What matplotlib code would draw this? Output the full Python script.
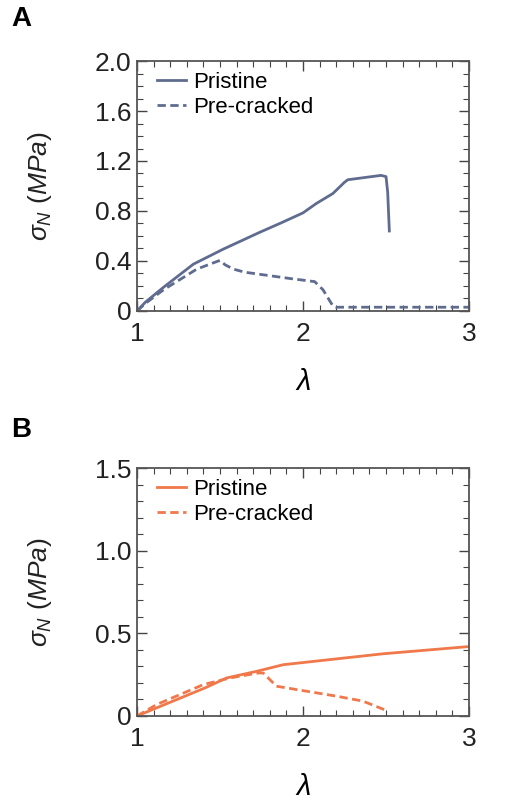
import matplotlib
matplotlib.use("Agg")
import matplotlib.pyplot as plt
from matplotlib.ticker import MultipleLocator

plt.rcParams['font.family'] = ['Liberation Sans', 'DejaVu Sans']
plt.rcParams['mathtext.fontset'] = 'custom'
plt.rcParams['mathtext.it'] = 'Liberation Sans:italic'
plt.rcParams['mathtext.rm'] = 'Liberation Sans'

# Panel A data
a_pristine_x = [1.0, 1.05, 1.16, 1.34, 1.52, 1.74, 1.86, 2.0, 2.08, 2.18, 2.25, 2.27, 2.47, 2.50, 2.51, 2.52]
a_pristine_y = [0.0, 0.07, 0.19, 0.375, 0.495, 0.63, 0.70, 0.785, 0.86, 0.94, 1.03, 1.05, 1.085, 1.075, 0.95, 0.64]
a_crack_x = [1.0, 1.05, 1.16, 1.36, 1.50, 1.53, 1.58, 1.65, 1.92, 2.07, 2.12, 2.18, 2.20, 3.0]
a_crack_y = [0.0, 0.06, 0.17, 0.335, 0.405, 0.37, 0.335, 0.31, 0.26, 0.235, 0.17, 0.04, 0.03, 0.03]

# Panel B data
b_pristine_x = [1.0, 1.41, 1.54, 1.72, 1.88, 2.48, 3.0]
b_pristine_y = [0.0, 0.17, 0.23, 0.27, 0.31, 0.376, 0.42]
b_crack_x = [1.0, 1.12, 1.40, 1.56, 1.73, 1.76, 1.84, 1.90, 2.20, 2.36, 2.51]
b_crack_y = [0.0, 0.07, 0.19, 0.23, 0.26, 0.26, 0.18, 0.17, 0.12, 0.09, 0.03]

x_ticks = [1, 2, 3]
a_yticks = [0, 0.4, 0.8, 1.2, 1.6, 2.0]
a_ylabels = ["0", "0.4", "0.8", "1.2", "1.6", "2.0"]
b_yticks = [0, 0.5, 1.0, 1.5]
b_ylabels = ["0", "0.5", "1.0", "1.5"]

blue = "#5f6c90"
orange = "#f0784a"

fig = plt.figure(figsize=(5.27, 8.05), dpi=100)
axA = fig.add_axes([0.26, 0.6137, 0.63, 0.3105])
axB = fig.add_axes([0.26, 0.1106, 0.63, 0.308])

def style(ax, yticks, ylabels, ymax):
    ax.set_xlim(1, 3)
    ax.set_ylim(0, ymax)
    ax.set_xticks(x_ticks)
    ax.set_xticklabels([str(t) for t in x_ticks])
    ax.set_yticks(yticks)
    ax.set_yticklabels(ylabels)
    ax.xaxis.set_minor_locator(MultipleLocator(0.1))
    ax.yaxis.set_minor_locator(MultipleLocator(0.1))
    ax.tick_params(which='both', direction='in', top=True, right=True, colors='#444444', labelcolor='#222222')
    ax.tick_params(which='major', length=7, width=1.0, labelsize=19)
    ax.tick_params(which='minor', length=4, width=0.8)
    ax.tick_params(axis='x', which='major', pad=8)
    ax.tick_params(axis='y', which='major', pad=4)
    for s in ax.spines.values():
        s.set_color('#555555')
        s.set_linewidth(1.3)
    ax.set_xlabel(r'$\lambda$', fontsize=21)
    ax.xaxis.set_label_coords(0.5, -0.23)
    ax.set_ylabel(r'$\sigma_N$ ($MPa$)', fontsize=19, color='#222222')
    ax.yaxis.set_label_coords(-0.25, 0.5)

dash = (0, (3.0, 1.6))
axA.plot(a_pristine_x, a_pristine_y, color=blue, lw=2.0, label='Pristine')
axA.plot(a_crack_x, a_crack_y, color=blue, lw=2.0, ls=dash, label='Pre-cracked')
style(axA, a_yticks, a_ylabels, 2.0)

axB.plot(b_pristine_x, b_pristine_y, color=orange, lw=2.0, label='Pristine')
axB.plot(b_crack_x, b_crack_y, color=orange, lw=2.0, ls=dash, label='Pre-cracked')
style(axB, b_yticks, b_ylabels, 1.5)

for ax in (axA, axB):
    ax.legend(loc='upper left', bbox_to_anchor=(0.06, 0.955), frameon=False,
              fontsize=16, handlelength=1.3, handletextpad=0.35, labelspacing=0.15,
              borderaxespad=0.0, borderpad=0.0)

fig.text(0.022, 0.992, 'A', fontsize=20, fontweight='bold', va='top', ha='left')
fig.text(0.022, 0.482, 'B', fontsize=20, fontweight='bold', va='top', ha='left')

fig.savefig('out.png', dpi=100)
